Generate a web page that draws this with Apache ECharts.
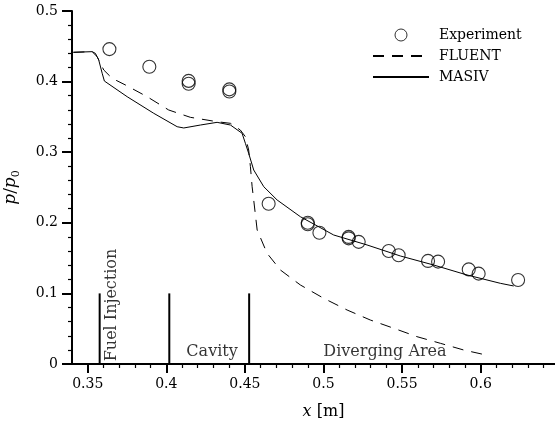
<!DOCTYPE html>
<html>
<head>
<meta charset="utf-8">
<script src="https://cdn.jsdelivr.net/npm/echarts@6/dist/echarts.min.js"></script>
<style>
  html, body { margin: 0; padding: 0; background: #fff; }
  #chart { width: 555px; height: 429px; }
</style>
</head>
<body>
<div id="chart"></div>
<script>
// experiment (circles)
const experimentX = [0.3638, 0.3892, 0.4142, 0.4142, 0.4401, 0.4401, 0.4651, 0.4900, 0.4900, 0.4974, 0.5160, 0.5160, 0.5224, 0.5415, 0.5478, 0.5665, 0.5729, 0.5924, 0.5987, 0.6238];
const experimentY = [0.446, 0.421, 0.401, 0.397, 0.389, 0.386, 0.227, 0.200, 0.198, 0.186, 0.180, 0.178, 0.173, 0.160, 0.154, 0.146, 0.145, 0.134, 0.128, 0.119];

// FLUENT (dashed)
const fluentX = [0.3409, 0.3528, 0.3560, 0.3602, 0.3655, 0.3740, 0.3878, 0.4015, 0.4153, 0.4323, 0.4408, 0.4471, 0.4503, 0.4524, 0.4535, 0.4546, 0.4556, 0.4578, 0.4641, 0.4726, 0.4853, 0.5001, 0.5150, 0.5298, 0.5447, 0.5595, 0.5744, 0.5892, 0.6015];
const fluentY = [0.4415, 0.4424, 0.4353, 0.4164, 0.4047, 0.3952, 0.3786, 0.3598, 0.3494, 0.3432, 0.3409, 0.3314, 0.3220, 0.3031, 0.2795, 0.2511, 0.2323, 0.1898, 0.1568, 0.1331, 0.1119, 0.0931, 0.0765, 0.0623, 0.0506, 0.0387, 0.0293, 0.0198, 0.0137];

// MASIV (solid)
const masivX = [0.3409, 0.3528, 0.3549, 0.3570, 0.3592, 0.3606, 0.3751, 0.3920, 0.4069, 0.4111, 0.4217, 0.4323, 0.4408, 0.4482, 0.4503, 0.4524, 0.4556, 0.4620, 0.4705, 0.4853, 0.5065, 0.5277, 0.5489, 0.5701, 0.5913, 0.6125, 0.6210];
const masivY = [0.4415, 0.4424, 0.4400, 0.4306, 0.4118, 0.4008, 0.3786, 0.3551, 0.3361, 0.3343, 0.3385, 0.3423, 0.3385, 0.3268, 0.3126, 0.2984, 0.2748, 0.2511, 0.2323, 0.2086, 0.1827, 0.1686, 0.1530, 0.1402, 0.1261, 0.1143, 0.1105];

// region boundaries and names
const regionBoundaries = [0.3576, 0.4019, 0.4527];
const regionTop = 0.1;
const regionNames = ['Fuel Injection', 'Cavity', 'Diverging Area'];
const regionLabelX = [0.3655, 0.4291, 0.5391];
const regionLabelY = [0.0836, 0.0166, 0.0166];

// ticks
const xMajorTicks = [0.35, 0.4, 0.45, 0.5, 0.55, 0.6, 0.65];
const xLabelValues = [0.35, 0.4, 0.45, 0.5, 0.55, 0.6];
const xTickLabels = ['0.35', '0.4', '0.45', '0.5', '0.55', '0.6'];
const xMinorTicks = [0.36, 0.37, 0.38, 0.39, 0.41, 0.42, 0.43, 0.44, 0.46, 0.47, 0.48, 0.49,
  0.51, 0.52, 0.53, 0.54, 0.56, 0.57, 0.58, 0.59, 0.61, 0.62, 0.63, 0.64];
const yTickLabels = ['0', '0.1', '0.2', '0.3', '0.4', '0.5'];

const font = 'DejaVu Serif';
const zip = (xs, ys) => xs.map((x, i) => [x, ys[i]]);

const chart = echarts.init(document.getElementById('chart'));

const option = {
  animation: false,
  backgroundColor: '#fff',
  grid: { left: 72, top: 11, right: -20, bottom: 65, outerBoundsMode: 'none' },
  legend: {
    data: [
      { name: 'Experiment', itemStyle: { borderWidth: 1 } },
      { name: 'FLUENT' },
      { name: 'MASIV' }
    ],
    orient: 'vertical',
    left: 372,
    top: 28,
    padding: 0,
    itemWidth: 56,
    itemHeight: 12,
    itemGap: 7,
    selectedMode: false,
    textStyle: { fontFamily: font, fontSize: 14, color: '#000', padding: [0, 0, 0, 5] }
  },
  xAxis: [
    {
      type: 'value',
      min: 0.34,
      max: 0.66,
      name: '{i|x} [m]',
      nameLocation: 'middle',
      nameGap: 40,
      nameTextStyle: {
        fontFamily: font, fontSize: 16, color: '#000',
        rich: { i: { fontFamily: font, fontSize: 16, fontStyle: 'italic', color: '#000' } }
      },
      axisLine: { show: true, onZero: false, lineStyle: { color: '#000', width: 2 } },
      axisTick: { show: true, customValues: xMajorTicks, length: 9, lineStyle: { color: '#000', width: 2 } },
      axisLabel: {
        customValues: xLabelValues,
        margin: 13,
        fontFamily: font, fontSize: 14, color: '#000',
        formatter: v => xTickLabels[xLabelValues.findIndex(t => Math.abs(t - v) < 1e-6)] || ''
      },
      splitLine: { show: false }
    },
    {
      type: 'value',
      min: 0.34,
      max: 0.66,
      position: 'bottom',
      axisLine: { show: false },
      axisTick: { show: true, customValues: xMinorTicks, length: 4, lineStyle: { color: '#000', width: 1.2 } },
      axisLabel: { show: false },
      splitLine: { show: false }
    }
  ],
  yAxis: {
    type: 'value',
    min: 0,
    max: 0.5,
    interval: 0.1,
    name: '{i|p}/{i|p}{s|0}',
    nameLocation: 'middle',
    nameRotate: 90,
    nameGap: 50,
    nameTextStyle: {
      fontFamily: font, fontSize: 17, color: '#000',
      rich: {
        i: { fontFamily: font, fontSize: 17, fontStyle: 'italic', color: '#000', lineHeight: 22 },
        s: { fontFamily: font, fontSize: 11, color: '#000', verticalAlign: 'bottom', lineHeight: 22 }
      }
    },
    axisLine: { show: true, lineStyle: { color: '#000', width: 2 } },
    axisTick: { show: true, length: 10, lineStyle: { color: '#000', width: 2 } },
    minorTick: { show: true, splitNumber: 5, length: 4, lineStyle: { color: '#000', width: 1.2 } },
    axisLabel: {
      margin: 14,
      fontFamily: font, fontSize: 14, color: '#000',
      formatter: (v) => yTickLabels[Math.round(v * 10)]
    },
    splitLine: { show: false },
    minorSplitLine: { show: false }
  },
  series: [
    {
      name: 'Experiment',
      type: 'scatter',
      symbol: 'circle',
      symbolSize: 13,
      itemStyle: { color: 'rgba(0,0,0,0)', borderColor: '#000', borderWidth: 1.1 },
      data: zip(experimentX, experimentY),
      z: 5
    },
    {
      name: 'FLUENT',
      type: 'line',
      symbol: 'none',
      itemStyle: { color: '#000', opacity: 0 },
      lineStyle: { color: '#000', width: 1, type: [11, 8] },
      data: zip(fluentX, fluentY)
    },
    {
      name: 'MASIV',
      type: 'line',
      symbol: 'none',
      itemStyle: { color: '#000', opacity: 0 },
      lineStyle: { color: '#000', width: 1 },
      data: zip(masivX, masivY)
    },
    ...regionBoundaries.map((x, i) => ({
      name: 'boundary' + i,
      type: 'line',
      symbol: 'none',
      silent: true,
      lineStyle: { color: '#000', width: 2 },
      data: [[x, 0], [x, regionTop]]
    })),
    {
      name: 'regions',
      type: 'scatter',
      symbolSize: 0,
      silent: true,
      label: {
        show: true,
        position: 'inside',
        fontFamily: font,
        fontSize: 16,
        color: '#000',
        formatter: p => p.name
      },
      data: regionNames.map((n, i) => ({
        name: n,
        value: [regionLabelX[i], regionLabelY[i]],
        label: i === 0 ? { rotate: 90 } : {}
      }))
    }
  ]
};

chart.setOption(option);
</script>
</body>
</html>
